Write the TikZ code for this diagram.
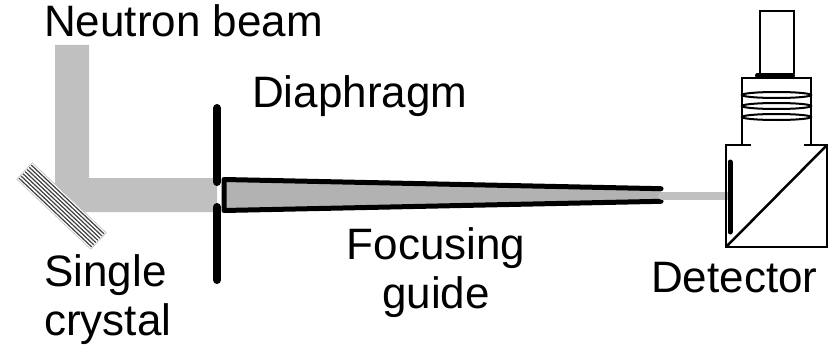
\documentclass[tikz,border=0pt]{standalone}
\usepackage{fontspec}
\setmainfont{Liberation Sans}
\definecolor{beamgray}{RGB}{192,192,192}
\definecolor{guidegray}{RGB}{178,178,178}
\begin{document}
\begin{tikzpicture}[x=1pt,y=-1pt,
  lbl/.style={inner sep=0pt, font=\fontsize{44}{49}\selectfont},
  edge/.style={line width=2.5pt},
  slit/.style={line width=8pt, line cap=round},
  wall/.style={line width=5pt, line cap=round, line join=round},
  coil/.style={line width=2pt},
  layer/.style={line width=1.2pt, black!75}]
\useasboundingbox (0,0) rectangle (835,353);

% incoming neutron beam, reflected towards the diaphragm
\fill[beamgray] (55,45) -- (89,45) -- (89,178) -- (217,178) -- (217,212) -- (55,212) -- cycle;

% single crystal (layered monochromator)
\begin{scope}[shift={(61.5,206)}, rotate=-43.4]
  \fill[white] (-51,-11.3) rectangle (51,11.3);
  \draw[black!25, line width=0.6pt] (-51,-11.3) rectangle (51,11.3);
  \foreach \v in {-9,-6,-3,0,3,6,9}
    \draw[layer] (-50,\v) -- (50,\v);
\end{scope}

% diaphragm
\draw[slit] (217,108) -- (217,182);
\draw[slit] (217,207) -- (217,280);

% focusing guide
\fill[guidegray] (224,179.5) -- (661,188.7) -- (661,201.3) -- (224,210.5) -- cycle;
\draw[wall] (661,188.7) -- (224,179.5) -- (224,210.5) -- (661,201.3);

% focused beam
\draw[beamgray, line width=8pt, line cap=round] (662,196) -- (728,196);

% detector housing
\draw[edge] (751,145) -- (726,145) -- (726,247) -- (827,247) -- (827,145) -- (804,145);
\draw[edge] (726,247) -- (827,145);
\draw[line width=5pt, line cap=round] (730,162) -- (730,232);
% neck with coils
\draw[edge] (742,145) -- (742,78) -- (811,78) -- (811,145);
\foreach \yc in {95,106,117}
  \draw[coil] (776.5,\yc) ellipse (34.5pt and 3pt);
% tube
\draw[edge] (760,74) -- (760,11) -- (794,11) -- (794,74);
\draw[line width=4pt, line cap=round] (757,75.5) -- (793,75.5);

% labels (a multi-line node sits on the baseline of its last line)
\node[lbl, anchor=base west] (nb) at (44,37) {Neutron beam};
\node[lbl, anchor=base west] (dia) at (252,107) {Diaphragm};
\node[lbl, anchor=base, align=center] (fg) at (436,308) {Focusing\\guide};
\node[lbl, anchor=base west, align=left] (sc) at (44,335) {Single\\crystal};
\node[lbl, anchor=base west] (det) at (651,292) {Detector};
\end{tikzpicture}
\end{document}
